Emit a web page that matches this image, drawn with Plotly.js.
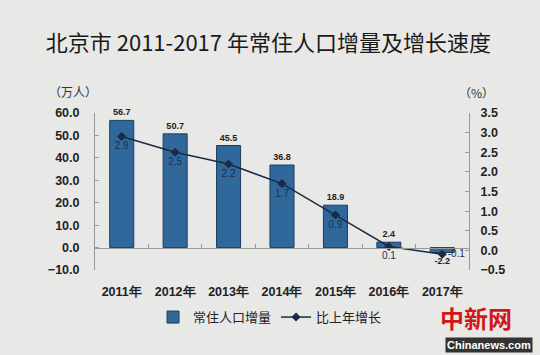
<!DOCTYPE html>
<html>
<head>
<meta charset="utf-8">
<script src="https://cdn.plot.ly/plotly-3.0.1.min.js"></script>
<style>html,body{margin:0;padding:0;background:#e8e8e7;}#chart{width:540px;height:355px;}</style>
</head>
<body>
<div id="chart"></div>
<script>
const years = ['2011年','2012年','2013年','2014年','2015年','2016年','2017年'];
const popIncrease = [56.7, 50.7, 45.5, 36.8, 18.9, 2.4, -2.2];
const growthRate = [2.9, 2.5, 2.2, 1.7, 0.9, 0.1, -0.1];
const seriesNames = ['常住人口增量', '比上年增长'];

const lineTextPos = growthRate.map((v, i) => i === growthRate.length - 1 ? 'middle right' : 'bottom center');

const barTrace = {
  type: 'bar', x: years, y: popIncrease, name: seriesNames[0],
  xaxis: 'x', yaxis: 'y',
  marker: {color: '#31689b', line: {color: '#1c3d5e', width: 1}},
  text: popIncrease.map(v => v.toFixed(1)), textposition: 'outside',
  textfont: {family: 'Liberation Sans, Arial', size: 9, color: '#222', weight: 'bold'},
  cliponaxis: false
};
const lineTrace = {
  type: 'scatter', x: years, y: growthRate, name: seriesNames[1],
  xaxis: 'x2', yaxis: 'y2', mode: 'lines+markers+text',
  line: {color: '#1b2b45', width: 1.5},
  marker: {symbol: 'diamond', size: 7, color: '#1b2b45'},
  text: growthRate.map(v => v.toFixed(1)), textposition: lineTextPos,
  textfont: {family: 'Liberation Sans, Arial', size: 10, color: '#1c2f4a'},
  cliponaxis: false
};

const axFont = {family: 'Liberation Sans, Arial', size: 12.5, color: '#222', weight: 'bold'};
const layout = {
  width: 540, height: 355,
  paper_bgcolor: '#e8e8e7', plot_bgcolor: 'rgba(0,0,0,0)',
  margin: {l: 95, r: 71, t: 113, b: 85},
  title: {text: '北京市 2011-2017 年常住人口增量及增长速度', x: 0.497, xref: 'container', y: 0.879, yref: 'container', yanchor: 'middle', xanchor: 'center',
    font: {family: 'Noto Sans CJK SC', size: 22, color: '#1a1a1a'}},
  bargap: 0.55,
  showlegend: true,
  legend: {orientation: 'h', x: 0.468, xanchor: 'center', y: -0.30, yanchor: 'middle',
    font: {family: 'Noto Sans CJK SC', size: 13, color: '#222'}, bgcolor: 'rgba(0,0,0,0)'},
  xaxis: {type: 'category', range: [-0.5, 6.5], showline: false, ticks: '', showgrid: false, zeroline: false,
    tickfont: axFont, ticklabelstandoff: 12, fixedrange: true},
  xaxis2: {type: 'category', overlaying: 'x', anchor: 'free', position: 1/7, range: [-0.5, 6.5],
    showticklabels: false, ticks: 'inside', tickson: 'boundaries', ticklen: 4, tickcolor: '#999',
    showline: true, linecolor: '#999', linewidth: 1, showgrid: false, zeroline: false},
  yaxis: {range: [-10, 60], dtick: 10, tickformat: '.1f', showline: true, linecolor: '#999', ticks: 'inside', ticklen: 4, tickcolor: '#999',
    showgrid: false, zeroline: false, tickfont: axFont, ticklabelstandoff: 12},
  yaxis2: {range: [-0.5, 3.5], dtick: 0.5, tickformat: '.1f', side: 'right', overlaying: 'y', anchor: 'x',
    showline: true, linecolor: '#999', ticks: 'inside', ticklen: 4, tickcolor: '#999',
    showgrid: false, zeroline: false, tickfont: axFont, ticklabelstandoff: 8},
  annotations: [
    {text: '（万人）', xref: 'paper', yref: 'paper', x: -0.06, y: 1.135, xanchor: 'center', yanchor: 'middle', showarrow: false,
      font: {family: 'Noto Sans CJK SC', size: 12, color: '#333'}},
    {text: '（%）', xref: 'paper', yref: 'paper', x: 1.02, y: 1.13, xanchor: 'center', yanchor: 'middle', showarrow: false,
      font: {family: 'Noto Sans CJK SC', size: 12, color: '#333'}},
    {text: '中新网', xref: 'paper', yref: 'paper', x: 1.02, y: -0.30, xanchor: 'center', yanchor: 'middle', showarrow: false,
      font: {family: 'Noto Sans CJK SC', size: 24, color: '#d01818', weight: 'bold'}},
    {text: 'Chinanews.com', xref: 'paper', yref: 'paper', x: 1.17, y: -0.475, xanchor: 'right', yanchor: 'middle', showarrow: false,
      bgcolor: '#333', font: {family: 'Liberation Sans, Arial', size: 11, color: '#fff', weight: 'bold'}}
  ]
};
Plotly.newPlot('chart', [barTrace, lineTrace], layout, {displayModeBar: false, staticPlot: true});
</script>
</body>
</html>
